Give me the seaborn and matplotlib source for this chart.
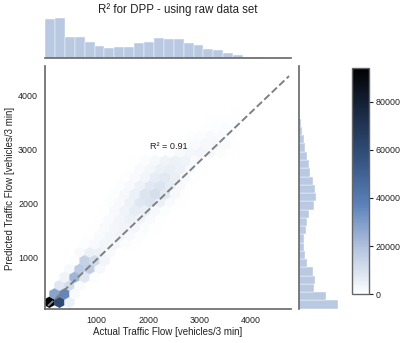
import numpy as np
import matplotlib
matplotlib.use('Agg')
import matplotlib.pyplot as plt
import seaborn as sns

# marginal histograms
actual_start = -8
actual_bin = 193
actual_counts = [117, 119, 62, 63, 46, 36, 28, 32, 32, 44, 48, 60, 55, 56, 44, 38, 27, 22, 14, 8, 2, 1, 0.5, 0.5, 0.5]
pred_start = 48
pred_bin = 153
pred_counts = [118, 82, 47, 48, 44, 24, 18, 16, 16, 22, 24, 32, 47, 53, 48, 43, 35, 30, 24, 20, 16, 11, 6]

# hexbin cells: row number, first column, counts along the row
hex_rows = [0, 1, 2, 3, 4, 5, 6, 7, 8, 9, 10, 11, 12, 13, 14, 15, 16, 17, 18, 19, 20, 21, 22, 23, 24]
hex_first = [0, 0, 1, 1, 2, 2, 3, 3, 4, 4, 5, 5, 6, 6, 7, 7, 8, 8, 11, 12, 13, 14, 15, 16, 17]
hex_counts = [
    [94000, 60000, 5000],
    [28000, 36000, 1500],
    [8000, 12000, 1500],
    [4000, 23000, 8000, 1000],
    [2000, 17000, 16000, 2500],
    [1000, 15000, 12000, 3500],
    [2000, 5000, 4500, 2000],
    [800, 2000, 3500, 3000, 1300, 400],
    [500, 1500, 3000, 4000, 2200, 800, 250],
    [500, 1500, 3000, 4000, 3000, 1200, 400],
    [600, 1800, 3500, 5000, 4000, 1800, 600, 200],
    [700, 2000, 4000, 6000, 5500, 2500, 900, 300],
    [800, 2200, 4500, 8000, 9500, 5000, 1800, 500],
    [800, 2500, 5000, 9000, 11000, 7000, 2500, 700],
    [800, 2200, 4500, 7500, 9000, 6500, 2500, 700, 200],
    [700, 1800, 3500, 6000, 7000, 5500, 2200, 700, 200],
    [600, 1500, 3000, 4800, 5500, 4500, 2000, 600, 150],
    [500, 1200, 2500, 4000, 4500, 4000, 1800, 500, 150],
    [500, 1100, 2000, 3000, 3500, 2800, 1300, 400, 100],
    [500, 1000, 1800, 2500, 2700, 1800, 700, 200],
    [350, 800, 1400, 1900, 1700, 800, 250, 80],
    [250, 600, 1000, 1200, 800, 300, 80],
    [150, 400, 700, 700, 400, 120],
    [100, 250, 400, 350, 150],
    [50, 150, 200, 150, 50],
]
fit_x = [50, 4749]
fit_y = [100, 4357]

W, H = 407, 343


def box(left, top, right, bottom):
    return [left / W, 1 - bottom / H, (right - left) / W, (bottom - top) / H]


sns.set_style('white')
plt.rcParams['font.family'] = ['Liberation Sans', 'DejaVu Sans']
plt.rcParams['font.size'] = 6
plt.rcParams['text.color'] = '#222222'
plt.rcParams['xtick.labelcolor'] = '#222222'
plt.rcParams['ytick.labelcolor'] = '#222222'

g = sns.JointGrid()
fig = g.figure
fig.set_size_inches(W / 100, H / 100)
fig.set_dpi(100)
g.ax_joint.set_position(box(45, 66, 291, 308.7))
g.ax_marg_x.set_position(box(45, 16, 291, 57.7))
g.ax_marg_y.set_position(box(298.5, 66, 341, 308.7))

cmap = sns.blend_palette(['#ffffff', '#b4c5e0', '#5a80b8', '#34527f', '#1a2a44', '#000000'], as_cmap=True)

# centres of the hex cells (matplotlib grid, odd rows shifted half a cell)
sx, sy = 196, 308
x0, y0 = 78, 167
xs, ys, cs = [], [], []
for row, first, counts in zip(hex_rows, hex_first, hex_counts):
    for i, c in enumerate(counts):
        xs.append(x0 + (first + i + (row % 2) / 2) * sx)
        ys.append(y0 + row * sy / 2)
        cs.append(c)

hb = g.ax_joint.hexbin(xs, ys, C=cs, reduce_C_function=np.sum, gridsize=(25, 14),
                       extent=(x0, x0 + 25 * sx, y0, y0 + 14 * sy),
                       cmap=cmap, vmin=0, vmax=94100, linewidths=0.2, edgecolors='face')
g.ax_joint.plot(fit_x, fit_y, '--', color='#808080', lw=1.4)
g.ax_joint.text(2037, 3061, 'R² = 0.91', fontsize=6.6, va='center')
g.ax_joint.set_xlim(-8, 4787)
g.ax_joint.set_ylim(48, 4543)
g.ax_joint.set_xticks([1000, 2000, 3000, 4000])
g.ax_joint.set_yticks([1000, 2000, 3000, 4000])
g.ax_joint.tick_params(labelsize=6.4, pad=5, length=0)

# marginals
x_edges = [actual_start + actual_bin * i for i in range(len(actual_counts) + 1)]
x_mid = [actual_start + actual_bin * (i + 0.5) for i in range(len(actual_counts))]
y_edges = [pred_start + pred_bin * i for i in range(len(pred_counts) + 1)]
y_mid = [pred_start + pred_bin * (i + 0.5) for i in range(len(pred_counts))]
sns.histplot(x=x_mid, weights=actual_counts, bins=x_edges, ax=g.ax_marg_x, color='#adc0dc',
             alpha=0.85, edgecolor='white', linewidth=0.3)
sns.histplot(y=y_mid, weights=pred_counts, bins=y_edges, ax=g.ax_marg_y, color='#adc0dc',
             alpha=0.85, edgecolor='white', linewidth=0.3)
g.ax_marg_x.set_ylim(0, 125)
g.ax_marg_y.set_xlim(0, 127)
g.ax_marg_x.set_xlabel('')
g.ax_marg_y.set_ylabel('')
g.ax_marg_x.tick_params(length=0, labelbottom=False, labelleft=False)
g.ax_marg_y.tick_params(length=0, labelbottom=False, labelleft=False)
g.ax_marg_x.set_xlim(-8, 4787)
g.ax_marg_y.set_ylim(48, 4543)

for ax in [g.ax_joint, g.ax_marg_x, g.ax_marg_y]:
    for side in ax.spines:
        ax.spines[side].set_color('#666666')
        ax.spines[side].set_linewidth(1.2)
sns.despine(ax=g.ax_marg_x, left=True)
sns.despine(ax=g.ax_marg_y, bottom=True)

# colour bar
cax = fig.add_axes(box(351.5, 67.7, 369, 294.3))
cb = fig.colorbar(hb, cax=cax)
cb.set_ticks([0, 20000, 40000, 60000, 80000])
cb.ax.tick_params(labelsize=6.4, length=3, width=0.8, pad=2, color='#222222')
cb.outline.set_edgecolor('#666666')
cb.outline.set_linewidth(1.0)

fig.text(178 / W, 1 - 10 / H, 'R² for DPP - using raw data set', fontsize=8.3, ha='center', va='center')
fig.text(168 / W, 1 - 332 / H, 'Actual Traffic Flow [vehicles/3 min]', fontsize=7, ha='center', va='center')
fig.text(10 / W, 1 - 188 / H, 'Predicted Traffic Flow [vehicles/3 min]', fontsize=7, rotation=90, ha='center', va='center')

fig.savefig('out.png', dpi=100)
